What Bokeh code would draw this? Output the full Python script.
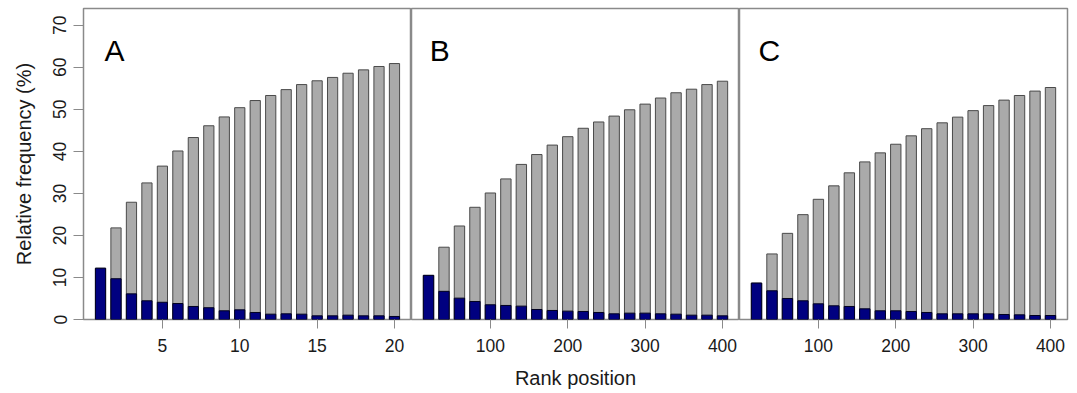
from bokeh.plotting import figure
from bokeh.layouts import row
from bokeh.models import Range1d, FixedTicker, Label
from bokeh.embed import file_html
from bokeh.resources import INLINE

# ---- data ----
rank_a = [1, 2, 3, 4, 5, 6, 7, 8, 9, 10, 11, 12, 13, 14, 15, 16, 17, 18, 19, 20]
rank_bc = [20, 40, 60, 80, 100, 120, 140, 160, 180, 200,
           220, 240, 260, 280, 300, 320, 340, 360, 380, 400]

cum_a = [12.2, 21.8, 27.9, 32.5, 36.5, 40.1, 43.3, 46.1, 48.2, 50.4,
         52.1, 53.3, 54.7, 55.9, 56.8, 57.6, 58.6, 59.4, 60.2, 60.9]
freq_a = [12.2, 9.7, 6.1, 4.45, 4.1, 3.8, 3.1, 2.8, 2.07, 2.3,
          1.67, 1.27, 1.35, 1.27, 0.87, 0.87, 1.03, 0.87, 0.87, 0.72]

cum_b = [10.5, 17.2, 22.25, 26.7, 30.1, 33.45, 36.9, 39.25, 41.5, 43.5,
         45.5, 47.0, 48.4, 49.9, 51.25, 52.7, 53.95, 54.8, 55.9, 56.7]
freq_b = [10.5, 6.7, 5.08, 4.29, 3.5, 3.34, 3.18, 2.38, 2.15, 1.99,
          1.91, 1.67, 1.35, 1.51, 1.51, 1.35, 1.27, 1.03, 1.03, 0.87]

cum_c = [8.66, 15.6, 20.5, 24.95, 28.6, 31.8, 34.9, 37.5, 39.65, 41.7,
         43.7, 45.4, 46.8, 48.15, 49.7, 50.9, 52.2, 53.3, 54.35, 55.2]
freq_c = [8.66, 6.83, 5.0, 4.45, 3.73, 3.26, 3.1, 2.54, 2.07, 2.07,
          1.91, 1.67, 1.35, 1.35, 1.35, 1.35, 1.19, 1.11, 0.95, 0.95]

panel_labels = ["A", "B", "C"]
y_ticks = [0, 10, 20, 30, 40, 50, 60, 70]
x_ticks_a = [5, 10, 15, 20]
x_ticks_bc = [100, 200, 300, 400]

FONT = "Liberation Sans"
FRAME = "#8a8a8a"
GREY_FILL = "#aaaaaa"
GREY_LINE = "#4a4a4a"
NAVY = "#000080"
H = 393


def make_panel(x, cum, freq, xr, bw, xticks, letter, lx, width, left, right,
               show_y, xlabel=None):
    p = figure(width=width, height=H, output_backend="svg", toolbar_location=None,
               x_range=Range1d(*xr), y_range=Range1d(0, 74),
               min_border_left=left, min_border_right=right,
               min_border_top=8, min_border_bottom=74,
               y_axis_location="left" if show_y else None)
    p.xgrid.visible = False
    p.ygrid.visible = False
    p.outline_line_color = FRAME
    p.outline_line_width = 1.5
    p.background_fill_color = "white"
    p.border_fill_color = "white"

    p.vbar(x=x, top=cum, bottom=0, width=bw, fill_color=GREY_FILL,
           line_color=GREY_LINE, line_width=1)
    p.vbar(x=x, top=freq, bottom=0, width=bw, fill_color=NAVY,
           line_color="#000020", line_width=1)

    xa = p.xaxis[0]
    xa.ticker = FixedTicker(ticks=xticks)
    xa.axis_line_color = None
    xa.major_tick_line_color = FRAME
    xa.major_tick_in = 0
    xa.major_tick_out = 9
    xa.minor_tick_line_color = None
    xa.major_label_standoff = 10
    xa.major_label_text_font = FONT
    xa.major_label_text_font_size = "17.5px"
    xa.major_label_text_color = "#1a1a1a"
    if xlabel:
        xa.axis_label = xlabel
        xa.axis_label_text_font = FONT
        xa.axis_label_text_font_size = "20px"
        xa.axis_label_text_font_style = "normal"
        xa.axis_label_text_color = "#1a1a1a"
        xa.axis_label_standoff = 12

    if show_y:
        ya = p.yaxis[0]
        ya.ticker = FixedTicker(ticks=y_ticks)
        ya.axis_line_color = None
        ya.major_tick_line_color = FRAME
        ya.major_tick_in = 0
        ya.major_tick_out = 10
        ya.minor_tick_line_color = None
        ya.major_label_orientation = "vertical"
        ya.major_label_standoff = 7
        ya.major_label_text_font = FONT
        ya.major_label_text_font_size = "17.5px"
        ya.major_label_text_color = "#1a1a1a"
        ya.axis_label = "Relative frequency (%)"
        ya.axis_label_text_font = FONT
        ya.axis_label_text_font_size = "20px"
        ya.axis_label_text_font_style = "normal"
        ya.axis_label_text_color = "#1a1a1a"
        ya.axis_label_standoff = 16

    p.add_layout(Label(x=lx, y=64, text=letter, text_font=FONT,
                       text_font_size="30px", text_color="black",
                       text_baseline="alphabetic"))
    return p


pa = make_panel(rank_a, cum_a, freq_a, (-0.1, 21.1), 0.66, x_ticks_a,
                panel_labels[0], 1.25, 411, 83, 0, True)
pb = make_panel(rank_bc, cum_b, freq_b, (-2, 422), 13.4, x_ticks_bc,
                panel_labels[1], 21.5, 328, 0, 0, False, "Rank position")
pc = make_panel(rank_bc, cum_c, freq_c, (-2, 422), 13.4, x_ticks_bc,
                panel_labels[2], 22.5, 338, 0, 10, False)

layout = row(pa, pb, pc, spacing=0)
open("out.html", "w").write(file_html(layout, INLINE))
